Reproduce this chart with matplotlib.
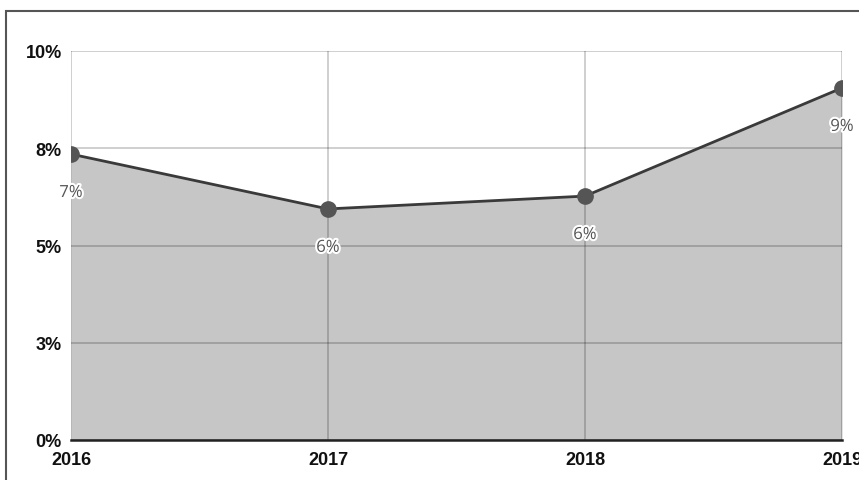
import matplotlib
matplotlib.use("Agg")
import matplotlib.pyplot as plt
import matplotlib.patheffects as pe
from matplotlib.patches import Rectangle

years = [2016, 2017, 2018, 2019]
values = [7.35, 5.94, 6.27, 9.05]
point_labels = ["7%", "6%", "6%", "9%"]
y_ticks = [0, 2.5, 5, 7.5, 10]
y_tick_labels = ["0%", "3%", "5%", "8%", "10%"]

fig = plt.figure(figsize=(8.59, 4.81), dpi=100)
ax = fig.add_axes([71/859, 40/481, (842-71)/859, (441-52)/481])

ax.fill_between(years, values, 0, color="#c6c6c6", zorder=1, linewidth=0)
ax.grid(True, color="black", alpha=0.22, linewidth=1.2, zorder=2)
ax.set_axisbelow(False)
for gl in ax.get_xgridlines() + ax.get_ygridlines():
    gl.set_zorder(2)
ax.plot(years, values, color="#3a3a3a", linewidth=2, zorder=3, clip_on=True)
ax.plot(years, values, "o", color="#555555", markersize=11, zorder=4, clip_on=True)

for x, v, t in zip(years, values, point_labels):
    ax.annotate(t, (x, v), xytext=(0, -28), textcoords="offset points",
                ha="center", va="center", fontsize=12, color="#555555",
                family=["Open Sans", "DejaVu Sans"],
                path_effects=[pe.withStroke(linewidth=3, foreground="white")], zorder=5)

ax.set_xlim(2016, 2019)
ax.set_ylim(0, 10)
ax.set_xticks(years)
ax.set_xticklabels([str(y) for y in years])
ax.set_yticks(y_ticks)
ax.set_yticklabels(y_tick_labels)
for s in ["top", "right", "left"]:
    ax.spines[s].set_visible(False)
ax.spines["bottom"].set_color("#222222")
ax.spines["bottom"].set_linewidth(1.8)
ax.spines["bottom"].set_zorder(6)
ax.tick_params(length=0, labelsize=13, labelcolor="#111111")
ax.tick_params(axis="y", pad=6.5)
ax.tick_params(axis="x", pad=8)
for lab in ax.get_xticklabels() + ax.get_yticklabels():
    lab.set_fontweight("bold")
    lab.set_family("Liberation Sans")

fig.patches.append(Rectangle((6/859, -0.2), 1.2, (481-12)/481 + 0.2,
                             transform=fig.transFigure, fill=False,
                             edgecolor="#555555", linewidth=1.5))

fig.savefig("out.png", dpi=100)
